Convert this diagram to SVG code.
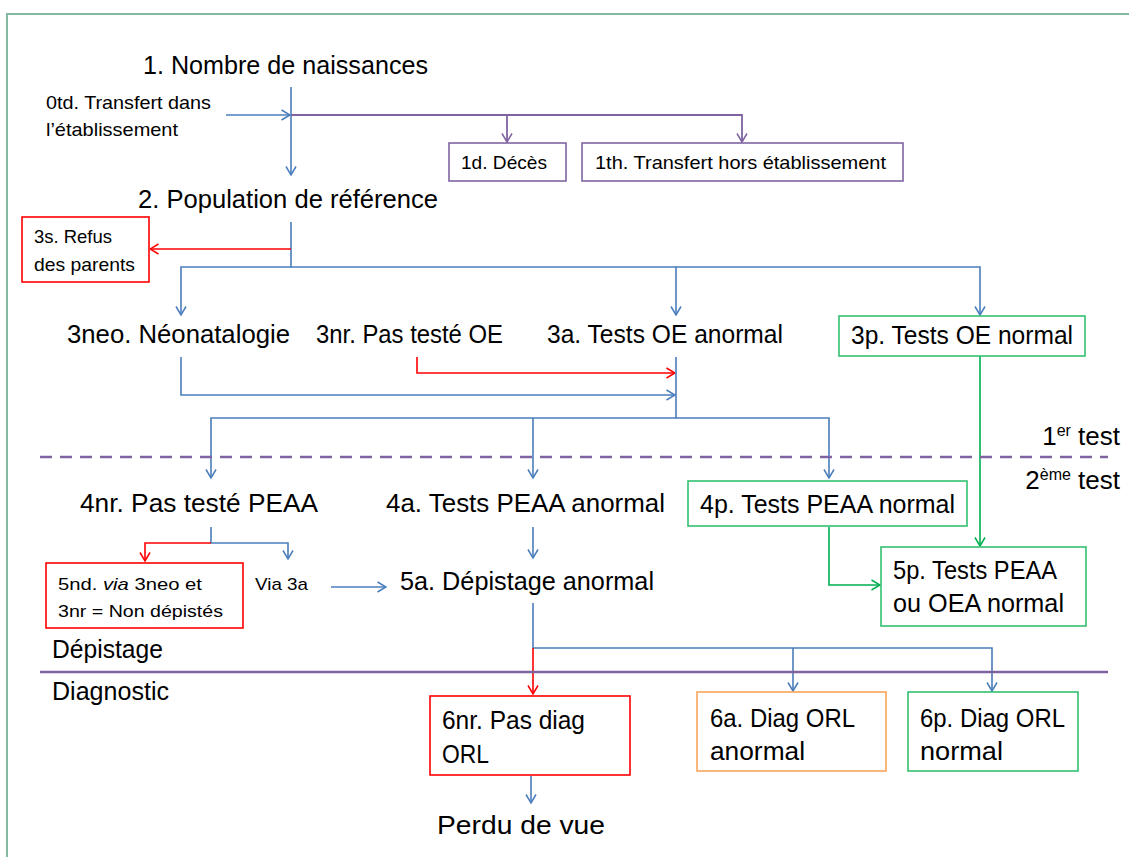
<svg xmlns="http://www.w3.org/2000/svg" width="1129" height="857" viewBox="0 0 1129 857">
<style>
text{font-family:"Liberation Sans",Arial,sans-serif;fill:#000}
.big{font-size:26px}
.med{font-size:19px}
.sm{font-size:17px}
.box{fill:#fff;stroke-width:1.6}
.bl{fill:none;stroke:#4a7ebb;stroke-width:1.6}
.rd{fill:none;stroke:#ff0000;stroke-width:1.6}
.pu{fill:none;stroke:#7f63a1;stroke-width:1.8}
.gr{fill:none;stroke:#00b050;stroke-width:1.6}
</style>
<defs>
<marker id="ab" viewBox="0 0 10 12" refX="9.5" refY="6" markerWidth="10" markerHeight="12" markerUnits="userSpaceOnUse" orient="auto"><path d="M1,1 L9.5,6 L1,11" fill="none" stroke="#4a7ebb" stroke-width="1.5"/></marker>
<marker id="ar" viewBox="0 0 10 12" refX="9.5" refY="6" markerWidth="10" markerHeight="12" markerUnits="userSpaceOnUse" orient="auto"><path d="M1,1 L9.5,6 L1,11" fill="none" stroke="#ff0000" stroke-width="1.5"/></marker>
<marker id="ap" viewBox="0 0 10 12" refX="9.5" refY="6" markerWidth="10" markerHeight="12" markerUnits="userSpaceOnUse" orient="auto"><path d="M1,1 L9.5,6 L1,11" fill="none" stroke="#7f63a1" stroke-width="1.5"/></marker>
<marker id="ag" viewBox="0 0 10 12" refX="9.5" refY="6" markerWidth="10" markerHeight="12" markerUnits="userSpaceOnUse" orient="auto"><path d="M1,1 L9.5,6 L1,11" fill="none" stroke="#00b050" stroke-width="1.5"/></marker>
</defs>
<rect x="0" y="0" width="1129" height="857" fill="#fff"/>
<rect x="7" y="14" width="1140" height="860" fill="none" stroke="#86b9a2" stroke-width="2"/>

<g id="connectors">
<path class="bl" d="M291,87 V175" marker-end="url(#ab)"/>
<path class="bl" d="M226,115 H290" marker-end="url(#ab)"/>
<path class="pu" d="M291,115 H742 V142" marker-end="url(#ap)"/>
<path class="pu" d="M507,115 V142" marker-end="url(#ap)"/>
<path class="bl" d="M291,222 V267 H181 V315" marker-end="url(#ab)"/>
<path class="bl" d="M291,267 H676 V315" marker-end="url(#ab)"/>
<path class="bl" d="M676,267 H980 V315" marker-end="url(#ab)"/>
<path class="rd" d="M291,249 H150" marker-end="url(#ar)"/>
<path class="rd" d="M417,357 V373 H675" marker-end="url(#ar)"/>
<path class="bl" d="M181,357 V395 H675" marker-end="url(#ab)"/>
<path class="bl" d="M676,357 V418 H211 V478" marker-end="url(#ab)"/>
<path class="bl" d="M533,418 V478" marker-end="url(#ab)"/>
<path class="bl" d="M676,418 H829 V478" marker-end="url(#ab)"/>
<path class="gr" d="M980,356 V546" marker-end="url(#ag)"/>
<path class="bl" d="M211,527 V543 H288 V559" marker-end="url(#ab)"/>
<path class="rd" d="M211,543 H145 V561" marker-end="url(#ar)"/>
<path class="bl" d="M533,527 V558" marker-end="url(#ab)"/>
<path class="bl" d="M331,587 H386" marker-end="url(#ab)"/>
<path class="gr" d="M829,527 V585 H880" marker-end="url(#ag)"/>
<path class="bl" d="M533,603 V648 H992 V691" marker-end="url(#ab)"/>
<path class="bl" d="M793,648 V691" marker-end="url(#ab)"/>
<path class="rd" d="M533,648 V694" marker-end="url(#ar)"/>
<path class="bl" d="M531,776 V803" marker-end="url(#ab)"/>
<path d="M40,457 H1108" fill="none" stroke="#8064a2" stroke-width="2.5" stroke-dasharray="12,8"/>
<path d="M40,672 H1108" fill="none" stroke="#7f63a1" stroke-width="2.5"/>
</g>

<g id="n1"><text class="big" x="143" y="74" textLength="285" lengthAdjust="spacingAndGlyphs">1. Nombre de naissances</text></g>
<g id="n0td"><text class="med" x="46" y="109" textLength="165" lengthAdjust="spacingAndGlyphs">0td. Transfert dans</text><text class="med" x="46" y="136" textLength="132" lengthAdjust="spacingAndGlyphs">l’établissement</text></g>
<g id="n1d"><rect class="box" x="449" y="143" width="117" height="38" stroke="#8064a2"/><text class="med" x="461" y="169" textLength="86" lengthAdjust="spacingAndGlyphs">1d. Décès</text></g>
<g id="n1th"><rect class="box" x="582" y="143" width="321" height="38" stroke="#8064a2"/><text class="med" x="595" y="169" textLength="291" lengthAdjust="spacingAndGlyphs">1th. Transfert hors établissement</text></g>
<g id="n2"><text class="big" x="138" y="208" textLength="300" lengthAdjust="spacingAndGlyphs">2. Population de référence</text></g>
<g id="n3s"><rect class="box" x="22" y="217" width="127" height="65" stroke="#ff0000"/><text class="med" x="34" y="243" textLength="78" lengthAdjust="spacingAndGlyphs">3s. Refus</text><text class="med" x="34" y="271" textLength="101" lengthAdjust="spacingAndGlyphs">des parents</text></g>
<g id="n3neo"><text class="big" x="67" y="343" textLength="223" lengthAdjust="spacingAndGlyphs">3neo. Néonatalogie</text></g>
<g id="n3nr"><text class="big" x="316" y="343" textLength="187" lengthAdjust="spacingAndGlyphs">3nr. Pas testé OE</text></g>
<g id="n3a"><text class="big" x="547" y="343" textLength="236" lengthAdjust="spacingAndGlyphs">3a. Tests OE anormal</text></g>
<g id="n3p"><rect class="box" x="839" y="316" width="246" height="40" stroke="#33c070"/><text class="big" x="851" y="344" textLength="222" lengthAdjust="spacingAndGlyphs">3p. Tests OE normal</text></g>
<g id="lbl1"><text class="big" x="1120" y="445" text-anchor="end">1<tspan font-size="16" dy="-9">er</tspan><tspan dy="9"> test</tspan></text></g>
<g id="lbl2"><text class="big" x="1120" y="489" text-anchor="end">2<tspan font-size="16" dy="-9">ème</tspan><tspan dy="9"> test</tspan></text></g>
<g id="n4nr"><text class="big" x="80" y="512" textLength="238" lengthAdjust="spacingAndGlyphs">4nr. Pas testé PEAA</text></g>
<g id="n4a"><text class="big" x="386" y="512" textLength="279" lengthAdjust="spacingAndGlyphs">4a. Tests PEAA anormal</text></g>
<g id="n4p"><rect class="box" x="688" y="481" width="279" height="45" stroke="#33c070"/><text class="big" x="700" y="513" textLength="255" lengthAdjust="spacingAndGlyphs">4p. Tests PEAA normal</text></g>
<g id="n5nd"><rect class="box" x="46" y="563" width="197" height="65" stroke="#ff0000"/><text class="sm" x="58" y="590" textLength="144" lengthAdjust="spacingAndGlyphs">5nd. <tspan font-style="italic">via</tspan> 3neo et</text><text class="sm" x="58" y="617" textLength="165" lengthAdjust="spacingAndGlyphs">3nr = Non dépistés</text></g>
<g id="via3a"><text class="sm" x="255" y="590" textLength="53" lengthAdjust="spacingAndGlyphs">Via 3a</text></g>
<g id="n5a"><text class="big" x="400" y="590" textLength="254" lengthAdjust="spacingAndGlyphs">5a. Dépistage anormal</text></g>
<g id="n5p"><rect class="box" x="881" y="547" width="205" height="79" stroke="#33c070"/><text class="big" x="893" y="579" textLength="164" lengthAdjust="spacingAndGlyphs">5p. Tests PEAA</text><text class="big" x="893" y="612" textLength="171" lengthAdjust="spacingAndGlyphs">ou OEA normal</text></g>
<g id="depistage"><text class="big" x="52" y="658" textLength="111" lengthAdjust="spacingAndGlyphs">Dépistage</text></g>
<g id="diagnostic"><text class="big" x="52" y="700" textLength="117" lengthAdjust="spacingAndGlyphs">Diagnostic</text></g>
<g id="n6nr"><rect class="box" x="430" y="696" width="200" height="79" stroke="#ff0000"/><text class="big" x="442" y="729" textLength="143" lengthAdjust="spacingAndGlyphs">6nr. Pas diag</text><text class="big" x="442" y="763" textLength="47" lengthAdjust="spacingAndGlyphs">ORL</text></g>
<g id="n6a"><rect class="box" x="697" y="692" width="189" height="79" stroke="#f9a55a"/><text class="big" x="710" y="727" textLength="145" lengthAdjust="spacingAndGlyphs">6a. Diag ORL</text><text class="big" x="710" y="760" textLength="95" lengthAdjust="spacingAndGlyphs">anormal</text></g>
<g id="n6p"><rect class="box" x="908" y="692" width="170" height="79" stroke="#33c070"/><text class="big" x="920" y="727" textLength="145" lengthAdjust="spacingAndGlyphs">6p. Diag ORL</text><text class="big" x="920" y="760" textLength="83" lengthAdjust="spacingAndGlyphs">normal</text></g>
<g id="perdu"><text class="big" x="437" y="834" textLength="168" lengthAdjust="spacingAndGlyphs">Perdu de vue</text></g>
</svg>
